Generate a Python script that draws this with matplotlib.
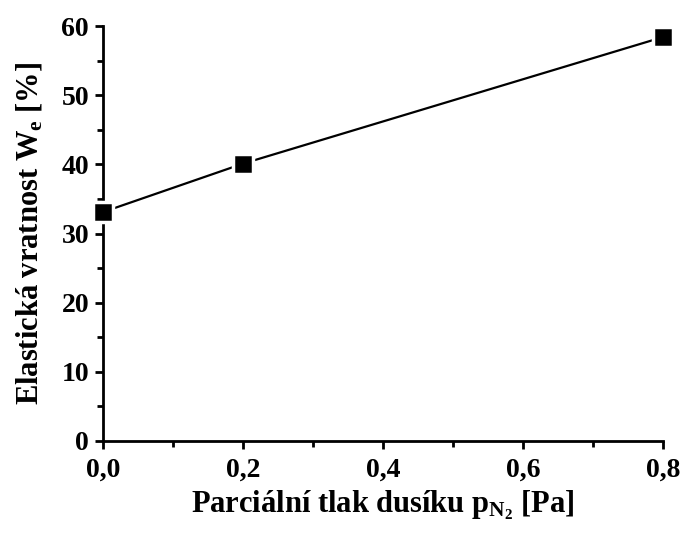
import matplotlib
matplotlib.use("Agg")
import matplotlib.pyplot as plt
from matplotlib.ticker import MultipleLocator, FuncFormatter

pressure = [0.0, 0.2, 0.8]
elastic_recovery = [33.1, 40.1, 58.4]

plt.rcParams['font.family'] = ['Liberation Serif', 'DejaVu Serif']
plt.rcParams['font.weight'] = 'bold'
plt.rcParams['mathtext.fontset'] = 'custom'
plt.rcParams['mathtext.rm'] = 'Liberation Serif:bold'
plt.rcParams['mathtext.it'] = 'Liberation Serif:bold'
plt.rcParams['mathtext.bf'] = 'Liberation Serif:bold'

fig = plt.figure(figsize=(6.84, 5.4), dpi=100)
ax = fig.add_axes([103/684, 99/540, 560/684, 415/540])

ax.plot(pressure, elastic_recovery, color='black', lw=1.6, marker='s',
        markersize=14, markerfacecolor='black', markeredgecolor='white',
        markeredgewidth=2.5, clip_on=False, zorder=3)

ax.set_xlim(0, 0.8)
ax.set_ylim(0, 60)
ax.xaxis.set_major_locator(MultipleLocator(0.2))
ax.xaxis.set_minor_locator(MultipleLocator(0.1))
ax.yaxis.set_major_locator(MultipleLocator(10))
ax.yaxis.set_minor_locator(MultipleLocator(5))
ax.xaxis.set_major_formatter(FuncFormatter(lambda v, p: f"{v:.1f}".replace('.', ',')))
ax.yaxis.set_major_formatter(FuncFormatter(lambda v, p: f"{v:.0f}"))

for s in ['top', 'right']:
    ax.spines[s].set_visible(False)
for s in ['left', 'bottom']:
    ax.spines[s].set_linewidth(2)

ax.tick_params(which='major', direction='out', length=6, width=2, labelsize=20, pad=4)
ax.tick_params(axis='x', which='major', pad=6)
ax.tick_params(which='minor', direction='out', length=4, width=2)
for lab in ax.get_xticklabels() + ax.get_yticklabels():
    lab.set_fontweight('bold')

ax.set_xlabel(r"Parciální tlak dusíku p$_{\mathrm{N}_{2}}$ [Pa]", fontsize=22, fontweight='bold', labelpad=4)
ax.set_ylabel(r"Elastická vratnost W$_{\mathrm{e}}$ [%]", fontsize=22, fontweight='bold', labelpad=12)

fig.savefig("out.png", dpi=100)
